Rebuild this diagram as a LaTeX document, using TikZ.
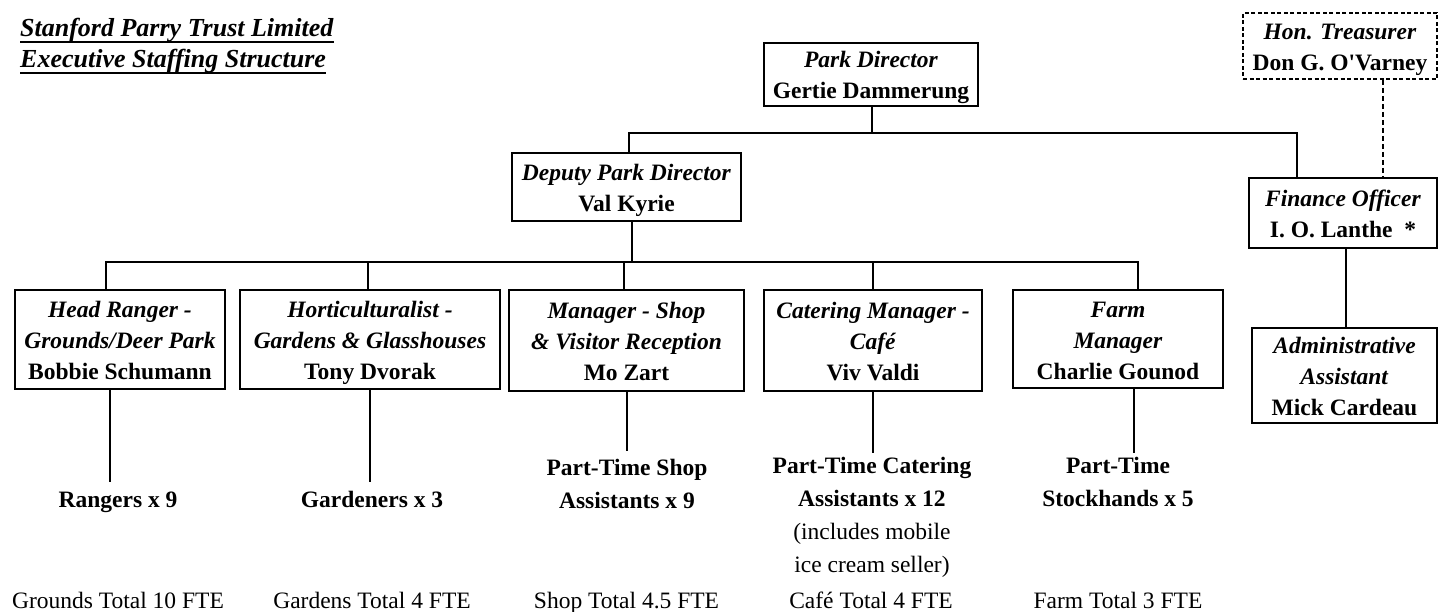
\documentclass[tikz,border=0pt]{standalone}
\usepackage{fontspec}
\setmainfont{Liberation Serif}
\usetikzlibrary{calc}
\newcommand\bx{\rule[-6pt]{0pt}{30pt}}
\newcommand\roleT[1]{\bx\textbf{\textit{#1}}}
\newcommand\nameT[1]{\bx\textbf{#1}}
\newcommand\plainT[1]{\bx #1}
\tikzset{
  orgbox/.style={draw, line width=1.6pt, inner sep=0pt, align=center, font=\fontsize{23.5}{31}\selectfont},
  honbox/.style={orgbox, dash pattern=on 4pt off 2.5pt},
  staff/.style={inner sep=0pt, align=center, anchor=north, font=\fontsize{23.5}{33}\selectfont},
  total/.style={inner sep=0pt, anchor=base, font=\fontsize{23.5}{28}\selectfont},
  heading/.style={inner sep=0pt, anchor=base west, font=\fontsize{26}{31}\selectfont\bfseries\itshape},
  link/.style={line width=1.5pt},
  dashlink/.style={line width=2pt, dash pattern=on 5pt off 3pt}
}
\begin{document}
\begin{tikzpicture}[x=1pt,y=-1pt]
\path[use as bounding box] (0,0) rectangle (1438,612);

% title
\node[heading] (title1) at (20,37) {Stanford Parry Trust Limited};
\node[heading] (title2) at (20,68) {Executive Staffing Structure};
\draw[line width=2pt] ($(title1.base west)+(0,5)$) -- ($(title1.base east)+(0,5)$);
\draw[line width=2pt] ($(title2.base west)+(0,5)$) -- ($(title2.base east)+(0,5)$);

% boxes
\node[orgbox, minimum width=214pt, minimum height=63pt] (pd) at (871,74.5)
  {\roleT{Park Director}\\\nameT{Gertie Dammerung}};
\node[honbox, minimum width=194pt, minimum height=66pt] (tre) at (1340,46)
  {\roleT{Hon. Treasurer}\\\nameT{Don G. O\textquotesingle Varney}};
\node[orgbox, minimum width=229pt, minimum height=68pt] (dep) at (626.5,187)
  {\roleT{Deputy Park Director}\\\nameT{Val Kyrie}};
\node[orgbox, minimum width=188pt, minimum height=70pt] (fin) at (1343,213)
  {\roleT{Finance Officer}\\\nameT{I. O. Lanthe\ \ *}};
\node[orgbox, minimum width=210pt, minimum height=99pt] (hr) at (120,339.5)
  {\roleT{Head Ranger -}\\\roleT{Grounds/Deer Park}\\\nameT{Bobbie Schumann}};
\node[orgbox, minimum width=260pt, minimum height=99pt] (hort) at (370,339.5)
  {\roleT{Horticulturalist -}\\\roleT{Gardens \& Glasshouses}\\\nameT{Tony Dvorak}};
\node[orgbox, minimum width=235pt, minimum height=101pt] (shop) at (626.5,340.5)
  {\roleT{Manager - Shop}\\\roleT{\& Visitor Reception}\\\nameT{Mo Zart}};
\node[orgbox, minimum width=218pt, minimum height=101pt] (cat) at (873,340.5)
  {\roleT{Catering Manager -}\\\roleT{Café}\\\nameT{Viv Valdi}};
\node[orgbox, minimum width=210pt, minimum height=98pt] (farm) at (1118,339)
  {\roleT{Farm}\\\roleT{Manager}\\\nameT{Charlie Gounod}};
\node[orgbox, minimum width=185pt, minimum height=95pt] (adm) at (1344.5,375.5)
  {\roleT{Administrative}\\\roleT{Assistant}\\\nameT{Mick Cardeau}};

% staff groups
\node[staff] (rng) at (118,483) {\nameT{Rangers x 9}};
\node[staff] (gdn) at (372,483) {\nameT{Gardeners x 3}};
\node[staff] (pts) at (627,451) {\nameT{Part-Time Shop}\\\nameT{Assistants x 9}};
\node[staff] (ptc) at (872,449) {\nameT{Part-Time Catering}\\\nameT{Assistants x 12}\\\plainT{(includes mobile}\\\plainT{ice cream seller)}};
\node[staff] (pst) at (1118,449) {\nameT{Part-Time}\\\nameT{Stockhands x 5}};

% totals
\node[total] (tg) at (118,608) {Grounds Total 10 FTE};
\node[total] (tgd) at (372,608) {Gardens Total 4 FTE};
\node[total] (ts) at (626.5,608) {Shop Total 4.5 FTE};
\node[total] (tc) at (871,608) {Café Total 4 FTE};
\node[total] (tf) at (1118,608) {Farm Total 3 FTE};

% connector coordinates
\coordinate (pdBus) at (872,133);
\coordinate (bus1L) at (629,133);
\coordinate (bus1R) at (1297,133);
\coordinate (depBus) at (632,262);
\coordinate (bus2L) at (106,262);
\coordinate (bus2R) at (1138,262);
\coordinate (bHort) at (368,262);
\coordinate (bShop) at (624,262);
\coordinate (bCat) at (873,262);
\coordinate (treStem) at (1383,0);
\coordinate (finStem) at (1346,0);
\coordinate (hrEnd) at (110,482);
\coordinate (hortEnd) at (370,482);
\coordinate (shopEnd) at (627,451);
\coordinate (catEnd) at (873,453);
\coordinate (farmEnd) at (1134,453);

% connectors
\draw[link] (pdBus |- pd.south) -- (pdBus);
\draw[link] (bus1L |- dep.north) -- (bus1L) -- (bus1R) -- (bus1R |- fin.north);
\draw[dashlink] (treStem |- tre.south) -- (treStem |- fin.north);
\draw[link] (finStem |- fin.south) -- (finStem |- adm.north);
\draw[link] (depBus |- dep.south) -- (depBus);
\draw[link] (bus2L |- hr.north) -- (bus2L) -- (bus2R) -- (bus2R |- farm.north);
\draw[link] (bHort) -- (bHort |- hort.north);
\draw[link] (bShop) -- (bShop |- shop.north);
\draw[link] (bCat) -- (bCat |- cat.north);
\draw[link] (hrEnd |- hr.south) -- (hrEnd);
\draw[link] (hortEnd |- hort.south) -- (hortEnd);
\draw[link] (shopEnd |- shop.south) -- (shopEnd);
\draw[link] (catEnd |- cat.south) -- (catEnd);
\draw[link] (farmEnd |- farm.south) -- (farmEnd);
\end{tikzpicture}
\end{document}
